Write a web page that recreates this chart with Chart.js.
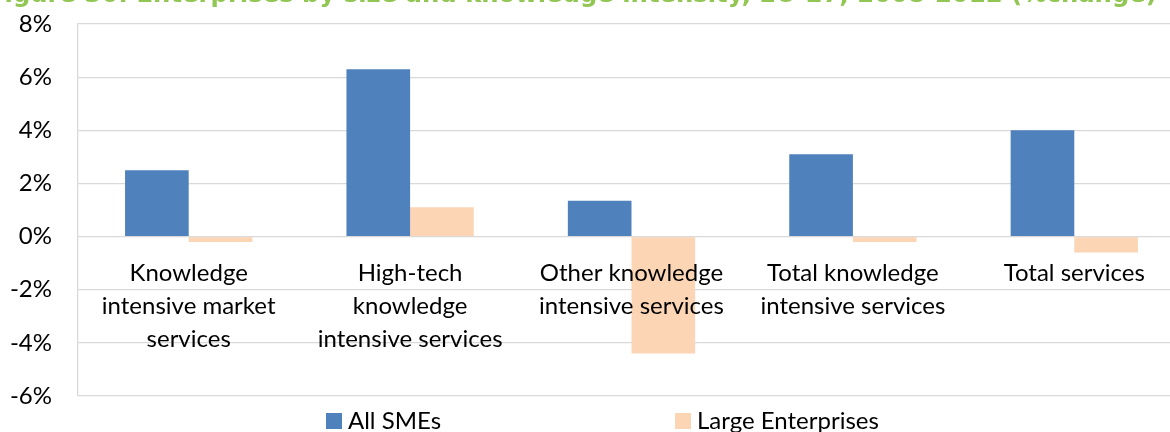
<!DOCTYPE html>
<html>
<head>
<meta charset="utf-8">
<script src="https://cdn.jsdelivr.net/npm/chart.js@4.4.1/dist/chart.umd.min.js"></script>
<style>
  html, body { margin: 0; padding: 0; background: #fff; overflow: hidden; }
  body { width: 1170px; height: 432px; position: relative; }
  #wrap { position: absolute; left: -12px; top: -12px; }
  .legend-item { position: absolute; font-family: Lato, sans-serif; font-size: 24px; line-height: 24px; color: #000; white-space: nowrap; }
  .legend-box { position: absolute; width: 16px; height: 16px; }
</style>
</head>
<body>
<div id="wrap"><canvas id="barChart" width="1212" height="444"></canvas></div>
<div id="legend"></div>
<script>
// chart data
const title = "Figure 30: Enterprises by size and knowledge intensity, EU-27, 2008-2012 (%change)"
const categories = [
  ["Knowledge", "intensive market", "services"],
  ["High-tech", "knowledge", "intensive services"],
  ["Other knowledge", "intensive services"],
  ["Total knowledge", "intensive services"],
  ["Total services"]
]
const seriesNames = ["All SMEs", "Large Enterprises"]
const smeValues = [2.5, 6.3, 1.35, 3.1, 4.0]
const largeValues = [-0.2, 1.1, -4.4, -0.2, -0.6]
const yMin = -6
const yMax = 8
const yStep = 2

const colors = ["#4F81BD", "#FCD5B5"]
const labelFont = { family: "Lato, sans-serif", size: 24 }

// Setup block
const data = {
  labels: categories,
  datasets: [
    { label: seriesNames[0], data: smeValues, backgroundColor: colors[0] },
    { label: seriesNames[1], data: largeValues, backgroundColor: colors[1] }
  ]
}

// Config block
const config = {
  type: 'bar',
  data: data,
  options: {
    responsive: false,
    animation: false,
    datasets: {
      bar: { categoryPercentage: 0.575, barPercentage: 1, borderWidth: 0 }
    },
    layout: { padding: { left: 0, right: 15, top: 0, bottom: 36 } },
    plugins: {
      legend: { display: false },
      tooltip: { enabled: false },
      title: {
        display: true,
        text: title,
        align: 'start',
        color: '#92C653',
        // the original title is cut off by the top edge
        font: { family: "'DejaVu Sans', sans-serif", size: 24.3, weight: 'bold', lineHeight: 0.61 },
        padding: { top: 0, bottom: 21.2 }
      }
    },
    scales: {
      x: {
        position: { y: 0 },
        grid: { display: false },
        border: { display: false },
        ticks: {
          z: 1,
          color: '#000',
          font: { ...labelFont, lineHeight: 1.375 },
          padding: 12,
          maxRotation: 0,
          autoSkip: false
        }
      },
      y: {
        min: yMin,
        max: yMax,
        afterFit: (scale) => { scale.width = 90 },
        grid: { color: '#D9D9D9', lineWidth: 1.3, drawTicks: true, tickLength: 26, tickColor: 'rgba(0,0,0,0)' },
        border: { display: true, color: '#D9D9D9', width: 1.3 },
        ticks: {
          stepSize: yStep,
          color: '#000',
          font: labelFont,
          padding: 0,
          callback: (v) => v + '%'
        }
      }
    }
  }
}

// Render block
const barChart = new Chart(document.querySelector("#barChart"), config)

// legend spread out like the original
const legendLeft = [326, 675]
const legendEl = document.querySelector("#legend")
barChart.data.datasets.forEach((ds, i) => {
  const box = document.createElement('div')
  box.className = 'legend-box'
  box.style.left = legendLeft[i] + 'px'
  box.style.top = '413px'
  box.style.background = ds.backgroundColor
  legendEl.appendChild(box)

  const txt = document.createElement('div')
  txt.className = 'legend-item'
  txt.style.left = (legendLeft[i] + 22) + 'px'
  txt.style.top = '408px'
  txt.textContent = ds.label
  legendEl.appendChild(txt)
})
</script>
</body>
</html>
